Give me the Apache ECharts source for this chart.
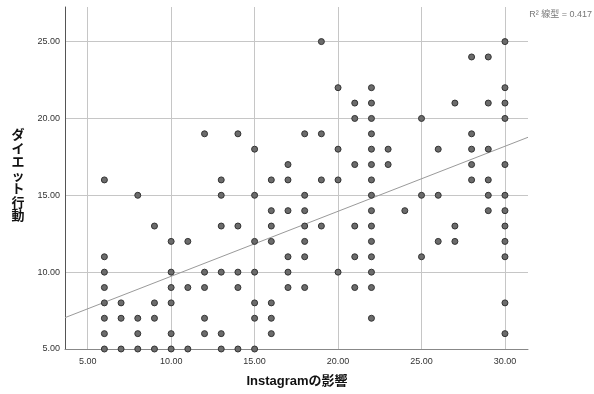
<!DOCTYPE html>
<html>
<head>
<meta charset="utf-8">
<script src="https://cdn.jsdelivr.net/npm/echarts@6/dist/echarts.min.js"></script>
<style>
html,body{margin:0;padding:0;background:#fff;}
#chart{width:594px;height:394px;}
</style>
</head>
<body>
<div id="chart"></div>
<script>
// Data (x = Instagramの影響, y = ダイエット行動)
const xValues = [
  6,6,6,6,6,6,6,6,
  7,7,7,
  8,8,8,8,
  9,9,9,9,
  10,10,10,10,10,10,
  11,11,11,
  12,12,12,12,12,
  13,13,13,13,13,13,
  14,14,14,14,14,
  15,15,15,15,15,15,15,
  16,16,16,16,16,16,16,
  17,17,17,17,17,17,
  18,18,18,18,18,18,18,
  19,19,19,19,
  20,20,20,20,
  21,21,21,21,21,21,
  22,22,22,22,22,22,22,22,22,22,22,22,22,22,22,
  23,23,
  24,
  25,25,25,
  26,26,26,
  27,27,27,
  28,28,28,28,28,
  29,29,29,29,29,29,
  30,30,30,30,30,30,30,30,30,30,30,30
];
const yValues = [
  16,11,10,9,8,7,6,5,
  8,7,5,
  15,7,6,5,
  13,8,7,5,
  12,10,9,8,6,5,
  12,9,5,
  19,10,9,7,6,
  16,15,13,10,6,5,
  19,13,10,9,5,
  18,15,12,10,8,7,5,
  16,14,13,12,8,7,6,
  17,16,14,11,10,9,
  19,15,14,13,12,11,9,
  25,19,16,13,
  22,18,16,10,
  21,20,17,13,11,9,
  22,21,20,19,18,17,16,15,14,13,12,11,10,9,7,
  18,17,
  14,
  20,15,11,
  18,15,12,
  21,13,12,
  24,19,18,17,16,
  24,21,18,16,15,14,
  25,22,21,20,17,15,14,13,12,11,8,6
];
const xTicks = [5, 10, 15, 20, 25, 30];
const yTicks = [5, 10, 15, 20, 25];
const xRange = [3.64, 31.38];
const yRange = [5, 27.25];
// Linear fit line (R² = 0.417)
const fitIntercept = 5.50;
const fitSlope = 0.423;
const r2Label = 'R² 線型 = 0.417';
const xTitle = 'Instagramの影響';
const yTitle = 'ダイエット行動';

const points = xValues.map((x, i) => [x, yValues[i]]);
const fitLine = xRange.map(x => [x, fitIntercept + fitSlope * x]);

const FONT = '"Liberation Sans", Arial, "Noto Sans CJK JP", sans-serif';
const chart = echarts.init(document.getElementById('chart'), null, {renderer: 'canvas'});
chart.setOption({
  animation: false,
  backgroundColor: '#fff',
  grid: {left: 65, right: 66, top: 7, bottom: 45, containLabel: false},
  xAxis: {
    type: 'value',
    min: xRange[0], max: xRange[1],
    axisLine: {show: true, onZero: false, lineStyle: {color: '#888', width: 1}},
    axisTick: {show: false, customValues: xTicks},
    axisLabel: {customValues: xTicks, formatter: v => v.toFixed(2), color: '#333', fontSize: 9, fontFamily: FONT, margin: 8},
    splitLine: {show: true, lineStyle: {color: '#c6c6c6', width: 1}}
  },
  yAxis: {
    type: 'value',
    min: yRange[0], max: yRange[1],
    axisLine: {show: true, onZero: false, lineStyle: {color: '#555', width: 1}},
    axisTick: {show: false, customValues: yTicks},
    axisLabel: {customValues: yTicks, formatter: v => v.toFixed(2), color: '#333', fontSize: 9, fontFamily: FONT, margin: 5},
    splitLine: {show: true, lineStyle: {color: '#c6c6c6', width: 1}}
  },
  series: [
    {
      type: 'line',
      data: fitLine,
      symbol: 'none',
      lineStyle: {color: '#9a9a9a', width: 1},
      silent: true,
      z: 2
    },
    {
      type: 'scatter',
      data: points,
      symbol: 'circle',
      symbolSize: 6,
      itemStyle: {color: '#6b6b6b', borderColor: '#333', borderWidth: 1, opacity: 1},
      z: 3
    }
  ],
  graphic: [
    {
      type: 'text', left: 'center', top: 375,
      style: {text: xTitle, font: 'bold 13px ' + FONT, fill: '#111'}
    },
    {
      type: 'text', x: 18, y: 176,
      style: {text: yTitle.split('').join('\n'), font: 'bold 13px ' + FONT, fill: '#111',
              align: 'center', verticalAlign: 'middle', lineHeight: 13.5}
    },
    {
      type: 'text', x: 592, y: 15,
      style: {text: r2Label, font: '9px ' + FONT, fill: '#777', align: 'right', verticalAlign: 'middle'}
    }
  ]
});
</script>
</body>
</html>
